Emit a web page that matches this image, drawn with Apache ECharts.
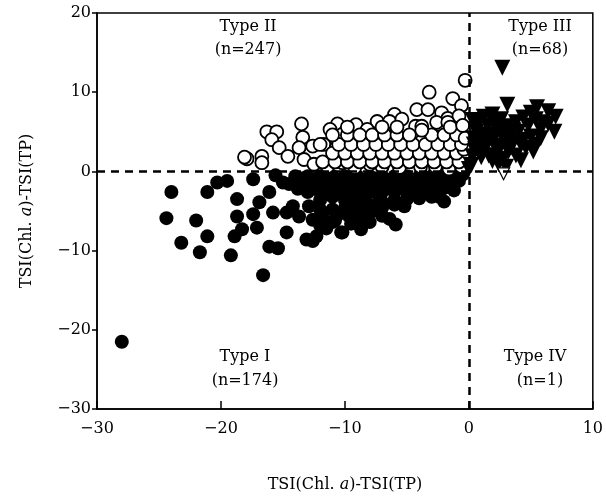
<!DOCTYPE html>
<html>
<head>
<meta charset="utf-8">
<script src="https://cdn.jsdelivr.net/npm/echarts@6/dist/echarts.min.js"></script>
<style>
  html, body { margin: 0; padding: 0; background: #fff; }
  #chart { width: 606px; height: 498px; }
</style>
</head>
<body>
<div id="chart"></div>
<script>
// 坐标轴刻度
var xTicks = [-30, -20, -10, 0, 10];
var yTicks = [-30, -20, -10, 0, 10, 20];

// Type I  (实心圆)
var typeI = [
  [-28, -21.5], [-24, -2.6], [-24.4, -5.9], [-22, -6.2], [-23.2, -9], [-21.1, -8.2], [-21.7, -10.2],
  [-19.2, -10.6], [-16.6, -13.1], [-20.3, -1.4], [-19.5, -1.2], [-21.1, -2.6], [-18.7, -3.5], [-17.4, -1],
  [-16.9, -3.9], [-18.7, -5.7], [-17.4, -5.4], [-18.3, -7.3], [-18.9, -8.2], [-17.1, -7.1], [-15.8, -5.2],
  [-14.7, -5.2], [-14.2, -4.4], [-14.7, -7.7], [-16.1, -9.5], [-15.4, -9.7], [-13.7, -5.7], [-12.6, -6.1],
  [-13.1, -8.6], [-11, -6.4], [-10.2, -7.7], [-16.1, -2.6], [-15, -1.4], [-12.3, -8.2], [-8.7, -7.3],
  [-6.4, -6], [-5.9, -6.7], [-8.3, -5.2], [-11, -4.8], [-12.9, -4.4], [-2, -3.8], [-2.4, -3.2],
  [-3.8, -2.6], [-5, -3.5], [-7, -3.9], [-9.4, -3.5], [-7.8, -5], [-12.6, -8.8], [-10.3, -7.7],
  [-15.6, -0.5], [-14, -0.6], [-13, -0.6], [-12, -0.6], [-11, -0.6], [-10, -0.6], [-9, -0.6], [-8, -0.6], [-7, -0.6],
  [-6, -0.6], [-5, -0.6], [-4, -0.6], [-3, -0.6], [-2, -0.6], [-1, -0.6], [-0.5, -0.4],
  [-14.5, -1.6], [-13.5, -1.6], [-12.5, -1.6], [-11.5, -1.6], [-10.5, -1.6], [-9.5, -1.6], [-8.5, -1.6],
  [-7.5, -1.6], [-6.5, -1.6], [-5.5, -1.6], [-4.5, -1.6], [-3.5, -1.6], [-2.5, -1.6], [-1.5, -1.6], [-0.8, -1.2],
  [-13.5, -0.9], [-12.5, -1.1], [-11.5, -0.9], [-10.5, -1.1], [-9.5, -0.9], [-8.5, -1.1], [-7.5, -0.9],
  [-6.5, -1.1], [-5.5, -0.9], [-4.5, -1.1], [-3.5, -0.9], [-2.5, -1.1], [-1.5, -0.9],
  [-13, -2.6], [-12, -2.6], [-11, -2.6], [-10, -2.6], [-9, -2.6], [-8, -2.6], [-7, -2.6], [-6, -2.6],
  [-5, -2.6], [-4.5, -2.8], [-3, -2.4], [-1.2, -2.4],
  [-13.8, -2.2], [-12.5, -2.1], [-11.5, -2.1], [-10.5, -2.1], [-9.5, -2.1], [-8.5, -2.1], [-7.5, -2.1],
  [-6.5, -2.1], [-5.5, -2.1], [-4, -2.1], [-2, -2.1],
  [-12, -3.6], [-10, -3.6], [-8.5, -3.6], [-6, -3.6], [-4, -3.4], [-11, -3.2], [-7.2, -3.2], [-3, -3.2],
  [-12, -4.8], [-10, -4.6], [-9, -4.6], [-7, -4.6], [-5.2, -4.4], [-9.8, -4.1], [-6, -4.2], [-8, -4.2],
  [-11.8, -5.6], [-9.7, -5.6], [-7, -5.6], [-10.5, -5.4], [-8.8, -6], [-12, -6.8], [-9.5, -6.6], [-8, -6.4],
  [-11.5, -7.2], [-10.8, -6.2]
];

// Type II  (空心圆)
var typeII = [
  [-0.3, 11.5], [-3.2, 10], [-1.3, 9.2], [-0.6, 8.3], [-4.2, 7.8], [-3.3, 7.8], [-6, 7.2], [-2.2, 7.4],
  [-1.7, 6.7], [-0.8, 7], [-7.4, 6.3], [-6.4, 6.3], [-5.4, 6.6], [-13.5, 6], [-10.6, 6], [-11.2, 5.3],
  [-16.3, 5], [-15.5, 5], [-9.1, 5.9], [-8.2, 5.3], [-4.3, 5.7], [-3.8, 5.7], [-2.6, 6.2], [-1.7, 6.2],
  [-0.4, 5], [-10.2, 4.7], [-13.4, 4.3], [-15.9, 4], [-9.1, 3.8], [-7.5, 4], [-6.4, 4.4], [-5.4, 4],
  [-3.8, 3.8], [-2.6, 4.4], [-1.3, 4.3], [-17.9, 1.6], [-18.1, 1.8], [-16.7, 1.9], [-16.7, 1.1], [-15.3, 3],
  [-14.6, 1.9], [-13.7, 3], [-12.6, 3.2], [-11.7, 3.4], [-10.7, 3], [-9.6, 2.4], [-8.6, 2.8], [-7.5, 2.1],
  [-6.4, 2.5], [-5.5, 1.8], [-4.6, 2.5], [-3.5, 2.8], [-2.2, 2.4], [-1.2, 1.5], [-0.2, 2.1], [-13.3, 1.5],
  [-12.5, 0.9], [-11.4, 0.6], [-10.2, 1.1], [-9.2, 0.5], [-8, 0.9], [-7, 0.6], [-5.6, 0.5], [-3.9, 0.6],
  [-2.7, 0.6], [-1.6, 0.3], [-0.6, 0.6],
  [-11.8, 1.2], [-10.8, 1.2], [-9.8, 1.2], [-8.8, 1.2], [-7.8, 1.2], [-6.8, 1.2], [-5.8, 1.2], [-4.8, 1.2],
  [-3.8, 1.2], [-2.8, 1.2], [-1.8, 1.2], [-0.8, 1.2],
  [-11, 2.3], [-10, 2.3], [-9, 2.3], [-8, 2.3], [-7, 2.3], [-6, 2.3], [-5, 2.3], [-4, 2.3], [-3, 2.3],
  [-2, 2.3], [-1, 2.3], [-0.4, 2.8],
  [-12, 3.4], [-10.5, 3.4], [-9.5, 3.4], [-8.5, 3.4], [-7.5, 3.4], [-6.5, 3.4], [-5.5, 3.4], [-4.5, 3.4],
  [-3.5, 3.4], [-2.5, 3.4], [-1.5, 3.4], [-0.6, 3.4],
  [-11, 4.6], [-9.8, 4.6], [-8.8, 4.6], [-7.8, 4.6], [-6.8, 4.6], [-5.8, 4.6], [-4.8, 4.6], [-3, 4.6],
  [-2, 4.6], [-1, 4.6], [-0.3, 4.2],
  [-9.8, 5.6], [-7, 5.6], [-5.8, 5.6], [-3.8, 5.2], [-1.5, 5.6], [-0.5, 5.8]
];

// Type III  (实心倒三角)
var typeIII = [
  [2.7, 13.1], [3.1, 8.4], [5.5, 8.1], [6.4, 7.6], [5, 7.4], [4.4, 6.8], [7, 6.9], [1.2, 6.9], [1.9, 7.2],
  [0.8, 6.3], [3.8, 6.2], [6, 6.2], [6.9, 5], [5.8, 5.3], [3, 5.7], [2.2, 5.5], [0.6, 5], [1.4, 4.7],
  [3.2, 4.9], [4, 5], [5, 4.4], [0.8, 3.7], [1.9, 3.8], [2.8, 4], [3.5, 3.7], [4.4, 4], [5.4, 3.4],
  [1.2, 2.5], [2.4, 2.8], [3.2, 2.5], [4.6, 3], [5.2, 2.5], [0.3, 1.9], [1, 1.8], [1.9, 1.3], [2.4, 0.9],
  [3, 0.6], [0, 0.3], [0.4, 4.2], [1.5, 5.8], [2.6, 6.6], [3.6, 5.2], [4.8, 5.8], [2.2, 3.2], [3.8, 2],
  [1.6, 2], [0.5, 2.8], [2.8, 1.6], [4.2, 1.4], [5.8, 4.2], [1, 4], [0.3, 6.5], [0.2, 0.8],
  [0.7, 5.8], [1.8, 4.5], [2.6, 5.1], [4.2, 3.4], [3.4, 3], [2, 6.2], [5.4, 6.6], [6.4, 6], [1.3, 3.2],
  [0.4, 3.4], [2.2, 2]
];

// Type IV  (空心倒三角)
var typeIV = [[2.8, -0.3]];

var serif = '"DejaVu Serif", "Liberation Serif", serif';
function minus(v) { return String(v).replace('-', '\u2212'); }
var nameRich = {
  n: { fontFamily: serif, fontSize: 16, color: '#000' },
  i: { fontFamily: serif, fontSize: 16, fontStyle: 'italic', color: '#000' }
};

// 象限标注
var labelStyle = { font: '16px ' + serif, fill: '#000', textAlign: 'center', textVerticalAlign: 'middle' };
function lab(text, x, y) {
  return { type: 'text', x: x, y: y, style: Object.assign({ text: text }, labelStyle) };
}

var chart = echarts.init(document.getElementById('chart'));
chart.setOption({
  animation: false,
  backgroundColor: '#fff',
  grid: { left: 97, right: 12, top: 13, bottom: 89, show: true, borderColor: '#000', borderWidth: 1.5 },
  xAxis: {
    type: 'value', min: xTicks[0], max: xTicks[xTicks.length - 1], interval: 10,
    name: '{n|TSI(Chl. }{i|a}{n|)-TSI(TP)}', nameLocation: 'middle', nameGap: 68,
    nameTextStyle: { rich: nameRich },
    axisLine: { onZero: false, lineStyle: { color: '#000', width: 1.5 } },
    axisTick: { inside: true, length: 8, lineStyle: { color: '#000', width: 1.5 } },
    axisLabel: { formatter: minus, fontFamily: serif, fontSize: 16, color: '#000', margin: 12 },
    splitLine: { show: false }
  },
  yAxis: {
    type: 'value', min: yTicks[0], max: yTicks[yTicks.length - 1], interval: 10,
    name: '{n|TSI(Chl. }{i|a}{n|)-TSI(TP)}', nameLocation: 'middle', nameGap: 62,
    nameTextStyle: { rich: nameRich },
    axisLine: { onZero: false, lineStyle: { color: '#000', width: 1.5 } },
    axisTick: { inside: false, length: 5, lineStyle: { color: '#000', width: 1.5 } },
    axisLabel: { formatter: minus, fontFamily: serif, fontSize: 16, color: '#000', margin: 6 },
    splitLine: { show: false }
  },
  series: [
    { name: 'Type I', type: 'scatter', data: typeI, symbol: 'circle', symbolSize: 14,
      itemStyle: { color: '#000', opacity: 1 } },
    { name: 'Type II', type: 'scatter', data: typeII, symbol: 'circle', symbolSize: 13,
      itemStyle: { color: '#fff', borderColor: '#000', borderWidth: 1.8, opacity: 1 } },
    { name: 'Type III', type: 'scatter', data: typeIII, symbol: 'triangle', symbolRotate: 180, symbolSize: 16,
      itemStyle: { color: '#000', opacity: 1 } },
    { name: 'Type IV', type: 'scatter', data: typeIV, symbol: 'triangle', symbolRotate: 180, symbolSize: 12,
      itemStyle: { color: '#fff', borderColor: '#000', borderWidth: 1.2, opacity: 1 } },
    { type: 'scatter', data: [], z: 10,
      markLine: { silent: true, symbol: 'none', label: { show: false },
        lineStyle: { color: '#000', width: 2.5, type: [8, 6] },
        data: [{ xAxis: 0 }, { yAxis: 0 }] } }
  ],
  graphic: [
    lab('Type II', 248, 27), lab('(n=247)', 248, 50),
    lab('Type III', 540, 27), lab('(n=68)', 540, 50),
    lab('Type I', 245, 357), lab('(n=174)', 245, 381),
    lab('Type IV', 535, 357), lab('(n=1)', 540, 381)
  ]
});
</script>
</body>
</html>
